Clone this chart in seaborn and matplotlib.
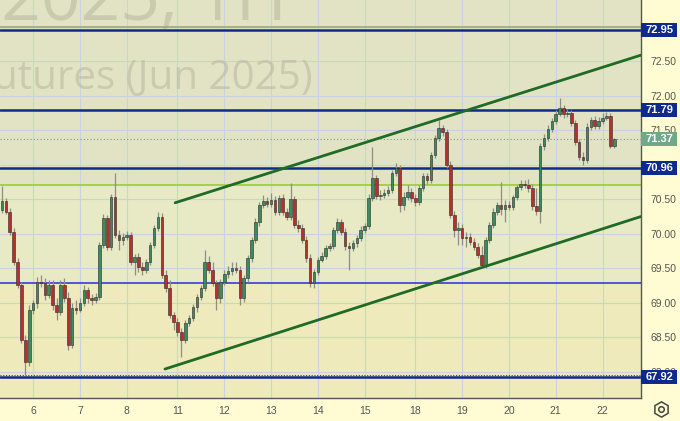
import matplotlib
matplotlib.use("Agg")
import matplotlib.pyplot as plt
import matplotlib.transforms as mtransforms
from matplotlib.patches import Rectangle
import numpy as np
import pandas as pd
import seaborn as sns

# 1H candles
opens = [70.35, 70.48, 70.32, 70.03, 69.59, 69.26, 68.46, 68.14, 68.90, 69.00,
         69.30, 69.29, 69.12, 69.26, 68.97, 68.87, 69.26, 69.07, 68.39, 68.93,
         68.90, 69.00, 69.19, 69.07, 69.04, 69.09, 69.84, 70.23, 69.81, 70.54,
         69.99, 69.91, 69.96, 69.99, 69.59, 69.67, 69.52, 69.48, 69.59, 69.84,
         70.09, 70.25, 69.41, 69.22, 68.83, 68.72, 68.58, 68.46, 68.71, 68.78,
         68.94, 69.09, 69.22, 69.59, 69.48, 69.29, 69.07, 69.30, 69.42, 69.46,
         69.51, 69.48, 69.07, 69.36, 69.65, 69.91, 70.17, 70.42, 70.48, 70.43,
         70.49, 70.32, 70.52, 70.32, 70.25, 70.51, 70.13, 70.09, 69.91, 69.65,
         69.29, 69.45, 69.62, 69.68, 69.80, 69.83, 70.06, 70.17, 70.03, 69.83,
         69.80, 69.86, 69.94, 70.06, 70.12, 70.52, 70.81, 70.55, 70.57, 70.59,
         70.64, 70.88, 70.96, 70.42, 70.54, 70.61, 70.52, 70.46, 70.67, 70.84,
         70.78, 71.14, 71.39, 71.54, 71.48, 71.00, 70.28, 70.06, 70.09, 69.94,
         69.96, 69.88, 69.81, 69.70, 69.55, 69.91, 70.13, 70.32, 70.42, 70.36,
         70.42, 70.39, 70.54, 70.68, 70.72, 70.71, 70.67, 70.41, 70.33, 71.28,
         71.39, 71.52, 71.64, 71.74, 71.83, 71.74, 71.75, 71.61, 71.33, 71.12,
         71.07, 71.55, 71.65, 71.57, 71.64, 71.68, 71.71, 71.28]
closes = [70.48, 70.32, 70.03, 69.59, 69.26, 68.46, 68.14, 68.90, 69.00, 69.30,
          69.29, 69.12, 69.26, 68.97, 68.87, 69.26, 69.07, 68.39, 68.93, 68.90,
          69.00, 69.19, 69.07, 69.04, 69.09, 69.84, 70.23, 69.81, 70.54, 69.99,
          69.91, 69.96, 69.99, 69.59, 69.67, 69.52, 69.48, 69.59, 69.84, 70.09,
          70.25, 69.41, 69.22, 68.83, 68.72, 68.58, 68.46, 68.71, 68.78, 68.94,
          69.09, 69.22, 69.59, 69.48, 69.29, 69.07, 69.30, 69.42, 69.46, 69.51,
          69.48, 69.07, 69.36, 69.65, 69.91, 70.17, 70.42, 70.48, 70.43, 70.49,
          70.32, 70.52, 70.32, 70.25, 70.51, 70.13, 70.09, 69.91, 69.65, 69.29,
          69.45, 69.62, 69.68, 69.80, 69.83, 70.06, 70.17, 70.03, 69.83, 69.80,
          69.86, 69.94, 70.06, 70.12, 70.52, 70.81, 70.55, 70.57, 70.59, 70.64,
          70.88, 70.96, 70.42, 70.54, 70.61, 70.52, 70.46, 70.67, 70.84, 70.78,
          71.14, 71.39, 71.54, 71.48, 71.00, 70.28, 70.06, 70.09, 69.94, 69.96,
          69.88, 69.81, 69.70, 69.55, 69.91, 70.13, 70.32, 70.42, 70.36, 70.42,
          70.39, 70.54, 70.68, 70.72, 70.71, 70.67, 70.41, 70.33, 71.28, 71.39,
          71.52, 71.64, 71.74, 71.83, 71.74, 71.75, 71.61, 71.33, 71.12, 71.07,
          71.55, 71.65, 71.57, 71.64, 71.68, 71.71, 71.28, 71.37]
highs = [70.70, 70.52, 70.38, 70.09, 69.65, 69.30, 68.54, 68.97, 69.04, 69.38,
         69.41, 69.36, 69.33, 69.33, 69.07, 69.33, 69.36, 69.16, 69.00, 69.04,
         69.07, 69.26, 69.23, 69.13, 69.14, 69.88, 70.29, 70.28, 70.58, 70.88,
         70.06, 70.01, 70.04, 70.03, 69.71, 69.72, 69.59, 69.64, 69.88, 70.13,
         70.32, 70.30, 69.48, 69.33, 68.87, 68.78, 68.64, 68.75, 68.83, 68.99,
         69.13, 69.26, 69.77, 69.68, 69.59, 69.33, 69.35, 69.48, 69.54, 69.59,
         69.59, 69.54, 69.41, 69.70, 69.96, 70.23, 70.46, 70.57, 70.54, 70.59,
         70.55, 70.57, 70.58, 70.38, 70.74, 70.55, 70.20, 70.14, 69.97, 69.71,
         69.49, 69.67, 69.74, 69.84, 69.87, 70.10, 70.23, 70.22, 70.09, 69.88,
         69.91, 69.99, 70.12, 70.16, 70.58, 71.26, 70.86, 70.64, 70.65, 70.70,
         70.93, 71.03, 71.00, 70.61, 70.71, 70.67, 70.58, 70.71, 70.88, 70.88,
         71.19, 71.43, 71.65, 71.58, 71.52, 71.06, 70.33, 70.17, 70.14, 70.03,
         70.01, 69.94, 69.87, 69.83, 69.96, 70.17, 70.38, 70.46, 70.75, 70.49,
         70.48, 70.57, 70.71, 70.78, 70.78, 70.80, 70.72, 70.67, 71.32, 71.45,
         71.58, 71.68, 71.80, 71.97, 71.87, 71.81, 71.80, 71.65, 71.38, 71.19,
         71.61, 71.70, 71.71, 71.70, 71.75, 71.77, 71.75, 71.39]
lows = [70.30, 70.29, 69.99, 69.55, 69.22, 68.42, 67.96, 68.09, 68.84, 68.93,
        69.23, 69.04, 69.07, 68.90, 68.75, 68.83, 69.01, 68.32, 68.35, 68.84,
        68.86, 68.96, 69.00, 68.97, 69.00, 69.04, 69.80, 69.77, 69.77, 69.94,
        69.77, 69.84, 69.91, 69.55, 69.41, 69.45, 69.41, 69.43, 69.55, 69.80,
        70.04, 69.36, 69.16, 68.78, 68.61, 68.52, 68.22, 68.42, 68.67, 68.74,
        68.87, 69.04, 69.17, 69.43, 69.25, 68.90, 69.00, 69.26, 69.36, 69.41,
        69.43, 68.97, 69.01, 69.30, 69.59, 69.87, 70.12, 70.38, 70.39, 70.39,
        70.28, 70.28, 70.28, 70.20, 70.20, 70.09, 70.03, 69.86, 69.59, 69.23,
        69.22, 69.41, 69.59, 69.64, 69.75, 69.78, 70.01, 69.99, 69.77, 69.48,
        69.75, 69.81, 69.90, 70.01, 70.07, 70.48, 70.51, 70.49, 70.52, 70.55,
        70.59, 70.84, 70.32, 70.35, 70.49, 70.46, 70.41, 70.42, 70.62, 70.72,
        70.74, 71.10, 71.35, 71.42, 70.96, 70.23, 69.96, 69.84, 69.84, 69.81,
        69.84, 69.77, 69.65, 69.51, 69.51, 69.87, 70.09, 70.28, 70.28, 70.17,
        70.35, 70.35, 70.49, 70.64, 70.67, 70.61, 70.35, 70.28, 70.16, 71.22,
        71.35, 71.48, 71.59, 71.71, 71.68, 71.70, 71.57, 71.29, 71.07, 71.00,
        71.03, 71.51, 71.52, 71.52, 71.59, 71.65, 71.25, 71.25]

day_labels = ["6", "7", "8", "11", "12", "13", "14", "15", "18", "19", "20", "21", "22"]
day_bars = [8, 20, 32, 45, 57, 69, 81, 93, 106, 118, 130, 142, 154]
price_ticks = [68.0, 68.5, 69.0, 69.5, 70.0, 70.5, 71.0, 71.5, 72.0, 72.5, 73.0]
price_labels = ["68.00", "68.50", "69.00", "69.50", "70.00", "70.50", "", "71.50",
                "72.00", "72.50", ""]

levels = [72.95, 71.79, 70.96, 67.92]
last_price = 71.37
lime_level = 70.71
blue_level = 69.29

# channel lines (bar index, price)
upper_x = [44.4, 163.8]
upper_y = [70.45, 72.59]
lower_x = [41.8, 163.8]
lower_y = [68.04, 70.25]

df = pd.DataFrame({"open": opens, "high": highs, "low": lows, "close": closes})
df["bar"] = np.arange(len(df))
df["up"] = df["close"] >= df["open"]

sns.set_theme(style="white")
plt.rcParams["font.family"] = ["Liberation Sans", "DejaVu Sans"]

fig = plt.figure(figsize=(6.8, 4.21), dpi=100)
fig.patch.set_facecolor("#fffbd2")
ax = fig.add_axes([0, 23 / 421, 641 / 680, 398 / 421])
ax.set_xlim(-0.5, 163.85)
ax.set_ylim(67.62, 73.39)

# background zones
ax.axhspan(lime_level, 73.5, color="#e2e3c4", zorder=0)
ax.axhspan(blue_level, lime_level, color="#e7eac4", zorder=0)
ax.axhspan(67.0, blue_level, color="#eeeabb", zorder=0)

# watermark
ax.text(287 / 641, 1 - 20 / 398, "BRNM2025, 1H", transform=ax.transAxes, ha="right",
        va="baseline", fontsize=50, color="#b9baa0", alpha=0.6, family="Open Sans", zorder=1)
ax.text(313 / 641, 1 - 89 / 398, "Brent Crude Oil Futures (Jun 2025)", transform=ax.transAxes,
        ha="right", va="baseline", fontsize=29, color="#b9baa0", alpha=0.6, family="Open Sans",
        zorder=1)

ax.set_xticks(day_bars)
ax.set_xticklabels(day_labels)
ax.set_yticks(price_ticks)
ax.set_yticklabels(price_labels)
ax.grid(True, color="#c9d3df", lw=0.8, zorder=1)
ax.set_axisbelow(True)
ax.yaxis.tick_right()
ax.tick_params(axis="both", length=0, labelsize=7.5, labelcolor="#555555")
ax.tick_params(axis="x", pad=6)
ax.tick_params(axis="y", pad=7)
for s in ["top", "left"]:
    ax.spines[s].set_visible(False)
for s in ["right", "bottom"]:
    ax.spines[s].set_color("#555555")
    ax.spines[s].set_linewidth(1)

# level lines
ax.axhline(73.00, color="#a3a37e", lw=1.2, zorder=2)
for lv in levels:
    ax.axhline(lv, color="#0d2a8c", lw=1.8, zorder=2)
ax.axhline(67.955, color="#444444", lw=0.8, ls=(0, (1, 1.5)), zorder=2)
ax.axhline(lime_level, color="#9acd32", lw=1.2, zorder=2)
ax.axhline(blue_level, color="#2b2be6", lw=1.1, zorder=2)
ax.axhline(last_price, color="#6f9f80", lw=0.8, ls=(0, (1, 2)), zorder=2)

# candles
body_lo = df[["open", "close"]].min(axis=1)
body_h = (df["close"] - df["open"]).abs().clip(lower=0.012)
colors = np.where(df["up"], "#3d8b5e", "#b8302b")
ax.vlines(df["bar"], df["low"], df["high"], color="#8e8e86", lw=0.9, zorder=3)
ax.bar(df["bar"], body_h, bottom=body_lo, width=0.66, color=colors,
       edgecolor="#2a2a2a", linewidth=0.4, zorder=4)

# trend channel
sns.lineplot(x=upper_x, y=upper_y, color="#1f6b25", lw=2, ax=ax, zorder=5)
sns.lineplot(x=lower_x, y=lower_y, color="#1f6b25", lw=2, ax=ax, zorder=5)
ax.set_xlim(-0.5, 163.85)
ax.set_ylim(67.62, 73.39)
ax.set_xlabel("")
ax.set_ylabel("")

# price tags on the right axis
trans = mtransforms.blended_transform_factory(ax.transAxes, ax.transData)
tags = [(lv, "#0d2a8c") for lv in levels] + [(last_price, "#6fa98a")]
for lv, c in tags:
    ax.add_patch(Rectangle((1.0, lv - 0.1), 0.056, 0.2, transform=trans, facecolor=c,
                           edgecolor="none", clip_on=False, zorder=10))
    ax.text(1.0295, lv, f"{lv:.2f}", transform=trans, ha="center", va="center",
            color="white", fontsize=8, fontweight="bold", clip_on=False, zorder=11)

# settings icon
ax.plot([0.972], [0.028], marker="h", ms=11, mfc="none", mec="#444444", mew=1.1,
        transform=fig.transFigure, clip_on=False)
ax.plot([0.972], [0.028], marker="o", ms=4, mfc="none", mec="#444444", mew=1.1,
        transform=fig.transFigure, clip_on=False)

fig.savefig("out.png", dpi=100, facecolor=fig.get_facecolor())
